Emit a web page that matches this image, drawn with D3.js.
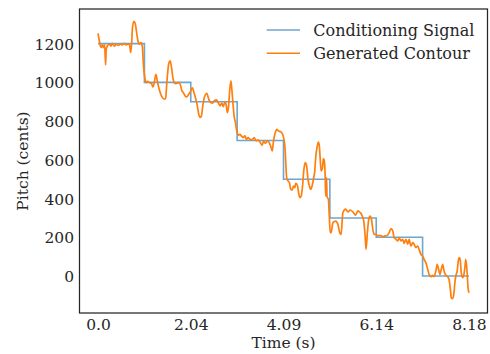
<!DOCTYPE html>
<html><head><meta charset="utf-8">
<script src="https://cdn.jsdelivr.net/npm/d3@7"></script>
<style>
html,body{margin:0;padding:0;background:#fff;}
svg{display:block;}
text{font-family:"DejaVu Serif",serif;fill:#262626;}
</style></head>
<body><svg id="c" width="490" height="354"></svg>
<script>
// Conditioning signal (step notes)
const noteStarts = [0, 1.0225, 2.045, 3.0675, 4.09, 5.1125, 6.135, 7.1575];
const noteValues = [1200, 1000, 900, 700, 500, 300, 200, 0];
const endTime = 8.18;

// Generated contour
const genTime = [0.00,0.035,0.066,0.095,0.12,0.145,0.167,0.18,0.21,0.255,0.285,0.315,0.36,0.40,0.445,0.49,0.535,0.58,0.62,0.665,0.695,0.72,0.74,0.76,0.79,0.82,0.85,0.88,0.915,0.945,0.975,
1.0,1.03,1.06,1.09,1.135,1.18,1.21,1.24,1.275,1.30,1.33,1.37,1.41,1.46,1.49,1.52,1.56,1.59,1.62,1.65,1.68,1.72,1.765,1.81,1.85,1.88,1.92,1.955,
2.0,2.03,2.06,2.08,2.12,2.16,2.19,2.22,2.255,2.28,2.31,2.35,2.40,2.43,2.47,2.52,2.56,2.61,2.65,2.69,2.73,2.76,2.80,2.83,2.85,2.88,2.90,2.93,2.95,2.98,
3.0,3.03,3.06,3.09,3.13,3.16,3.20,3.24,3.27,3.31,3.35,3.40,3.44,3.49,3.53,3.57,3.62,3.65,3.69,3.74,3.78,3.81,3.84,3.87,3.91,3.94,3.98,
4.03,4.07,4.12,4.14,4.16,4.19,4.22,4.25,4.28,4.31,4.34,4.36,4.40,4.42,4.45,4.48,4.51,4.54,4.57,4.60,4.63,4.66,4.69,4.72,4.75,4.78,4.80,4.83,4.86,4.88,4.90,4.92,4.95,4.97,4.99,
5.01,5.02,5.04,5.05,5.08,5.10,5.12,5.14,5.18,5.24,5.29,5.33,5.36,5.40,5.46,5.51,5.56,5.62,5.68,5.73,5.78,5.82,5.86,5.89,5.91,5.94,5.97,
6.00,6.03,6.06,6.09,6.13,6.17,6.20,6.25,6.29,6.34,6.38,6.42,6.46,6.50,6.53,6.57,6.61,6.64,6.68,6.72,6.75,6.79,6.83,6.86,6.90,6.94,6.97,
7.01,7.05,7.08,7.12,7.16,7.19,7.23,7.27,7.30,7.35,7.38,7.41,7.45,7.48,7.51,7.54,7.57,7.60,7.63,7.67,7.71,7.74,7.77,7.79,7.82,7.85,7.87,7.89,7.92,7.95,7.97,7.99,
8.01,8.04,8.07,8.09,8.11,8.14,8.16,8.18];
const genPitch = [1253,1206,1180,1194,1180,1194,1090,1172,1189,1197,1187,1201,1187,1197,1191,1197,1194,1201,1194,1197,1194,1154,1197,1284,1315,1304,1258,1215,1197,1206,1189,
1094,1025,999,1005,999,994,977,999,1042,1017,982,948,925,913,918,1008,1098,1111,1077,1025,999,994,999,991,956,948,930,925,
939,948,965,972,944,910,879,836,819,827,879,927,944,922,899,893,904,910,896,879,893,875,899,879,844,879,948,1008,965,879,
827,793,749,727,732,724,715,724,706,715,706,703,715,698,703,692,675,698,686,698,686,669,646,698,741,758,749,
744,732,672,586,508,491,483,448,444,465,457,479,465,434,405,413,465,551,586,568,500,465,448,465,500,543,612,664,692,672,603,543,560,607,594,
508,413,508,410,396,310,224,224,276,284,267,224,215,328,345,331,341,331,314,336,328,314,284,207,138,224,293,
310,293,241,215,215,207,210,207,204,207,210,224,245,233,198,190,181,198,181,190,169,190,164,190,155,172,164,
147,155,138,112,103,86,69,35,9,-3,4,-3,26,60,35,9,35,60,26,4,-3,-17,-69,-112,-117,-86,-34,0,26,86,95,78,
17,-8,9,43,86,17,-60,-86];

const xTicks = [0, 2.045, 4.09, 6.135, 8.18];
const xTickLabels = ["0.0", "2.04", "4.09", "6.14", "8.18"];
const yTicks = [0, 200, 400, 600, 800, 1000, 1200];
const seriesNames = ["Conditioning Signal", "Generated Contour"];

const svg = d3.select("#c");
const L = 79.5, R = 487.5, T = 9, B = 313;
const x = d3.scaleLinear().domain([-0.409, 8.589]).range([L, R]);
const y = d3.scaleLinear().domain([-191, 1379]).range([B, T]);

const blue = "#1f77b4", orange = "#ff7f0e";

// step data
const stepData = noteStarts.map((t, i) => [t, noteValues[i]]);
stepData.push([endTime, noteValues[noteValues.length - 1]]);

const stepLine = d3.line().x(d => x(d[0])).y(d => y(d[1])).curve(d3.curveStepAfter);
svg.append("path").attr("d", stepLine(stepData))
  .attr("fill", "none").attr("stroke", blue).attr("stroke-opacity", 0.65).attr("stroke-width", 1.6);

const genData = genTime.map((t, i) => [t, genPitch[i]]);
const genLine = d3.line().x(d => x(d[0])).y(d => y(d[1])).curve(d3.curveMonotoneX);
svg.append("path").attr("d", genLine(genData))
  .attr("fill", "none").attr("stroke", orange).attr("stroke-width", 1.7).attr("stroke-linejoin", "round");

// frame
svg.append("rect").attr("x", L).attr("y", T).attr("width", R - L).attr("height", B - T)
  .attr("fill", "none").attr("stroke", "#262626").attr("stroke-width", 1.25);

// axes (no tick marks)
const xAxis = d3.axisBottom(x).tickValues(xTicks).tickFormat((d, i) => xTickLabels[i]).tickSize(0).tickPadding(0);
const gx = svg.append("g").attr("transform", `translate(0,${B})`).call(xAxis);
gx.select(".domain").remove();
gx.selectAll("text").attr("y", 17).attr("dy", 0).style("font-size", "15.5px").style("font-family", "DejaVu Serif").attr("fill", "#262626");

const yAxis = d3.axisLeft(y).tickValues(yTicks).tickFormat(d3.format("d")).tickSize(0).tickPadding(0);
const gy = svg.append("g").attr("transform", `translate(${L},0)`).call(yAxis);
gy.select(".domain").remove();
gy.selectAll("text").attr("x", -5.5).attr("dy", "0.36em").style("font-size", "15.5px").style("font-family", "DejaVu Serif").attr("fill", "#262626");

// axis labels
svg.append("text").attr("x", (L + R) / 2).attr("y", 348).attr("text-anchor", "middle")
  .style("font-size", "15.5px").text("Time (s)");
svg.append("text").attr("transform", "translate(28,161) rotate(-90)").attr("text-anchor", "middle")
  .style("font-size", "15.5px").text("Pitch (cents)");

// legend
const lg = svg.append("g");
[[blue, 0.65], [orange, 1]].forEach((c, i) => {
  const yy = 30 + i * 23.3;
  lg.append("line").attr("x1", 266.7).attr("x2", 300).attr("y1", yy).attr("y2", yy)
    .attr("stroke", c[0]).attr("stroke-opacity", c[1]).attr("stroke-width", 1.6);
  lg.append("text").attr("x", 313.3).attr("y", yy).attr("dy", "0.36em")
    .style("font-size", "16px").text(seriesNames[i]);
});
</script></body></html>
